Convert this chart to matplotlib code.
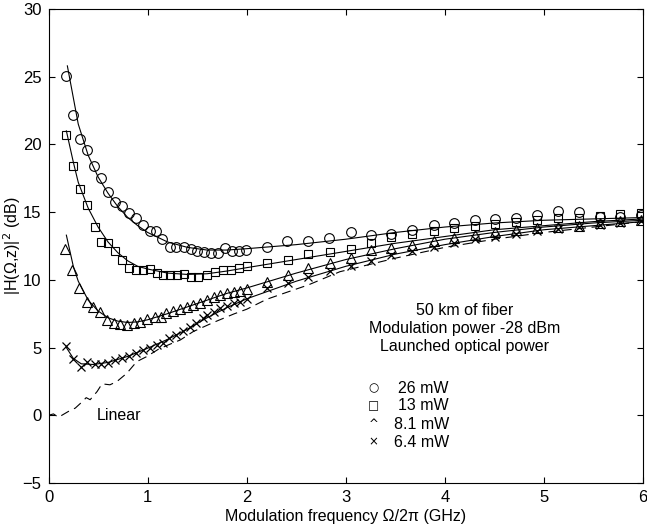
import matplotlib.pyplot as plt

plt.rcParams['font.family'] = ['Liberation Sans', 'DejaVu Sans']

# measured points, 26 mW (circles)
x26 = [0.18, 0.245, 0.32, 0.39, 0.46, 0.53, 0.60, 0.67, 0.74, 0.81, 0.88, 0.95, 1.02, 1.08,
       1.15, 1.23, 1.29, 1.37, 1.44, 1.50, 1.57, 1.64, 1.71, 1.78, 1.85, 1.92, 1.99,
       2.20, 2.41, 2.62, 2.83, 3.05, 3.25, 3.46, 3.67, 3.89, 4.09, 4.30, 4.51, 4.72,
       4.93, 5.14, 5.35, 5.56, 5.77, 5.98]
y26 = [25.07, 22.2, 20.4, 19.6, 18.4, 17.55, 16.5, 15.75, 15.46, 14.97, 14.6, 14.06, 13.57, 13.57,
       12.98, 12.44, 12.4, 12.4, 12.27, 12.15, 12.05, 11.95, 12.0, 12.34, 12.15, 12.15, 12.2,
       12.44, 12.84, 12.88, 13.08, 13.52, 13.3, 13.4, 13.7, 14.04, 14.2, 14.4, 14.5, 14.55,
       14.77, 15.07, 15.0, 14.65, 14.65, 14.77]

# 13 mW (squares)
x13 = [0.18, 0.245, 0.32, 0.39, 0.47, 0.53, 0.60, 0.67, 0.74, 0.81, 0.88, 0.95, 1.02, 1.09,
       1.16, 1.23, 1.30, 1.37, 1.44, 1.51, 1.60, 1.68, 1.76, 1.84, 1.92, 2.0,
       2.20, 2.42, 2.62, 2.84, 3.05, 3.25, 3.46, 3.67, 3.89, 4.09, 4.30, 4.51, 4.72,
       4.93, 5.14, 5.35, 5.56, 5.77, 5.98]
y13 = [20.72, 18.39, 16.7, 15.5, 13.9, 12.8, 12.7, 12.15, 11.5, 10.9, 10.7, 10.7, 10.77, 10.48,
       10.35, 10.35, 10.35, 10.4, 10.23, 10.18, 10.35, 10.6, 10.72, 10.72, 10.85, 11.0,
       11.26, 11.5, 11.88, 12.07, 12.27, 12.73, 13.2, 13.4, 13.6, 13.8, 14.0, 14.1, 14.3,
       14.4, 14.55, 14.6, 14.7, 14.85, 14.9]

# 8.1 mW (triangles)
x8 = [0.17, 0.24, 0.31, 0.39, 0.45, 0.52, 0.59, 0.66, 0.72, 0.79, 0.86, 0.92, 0.99, 1.07,
      1.13, 1.19, 1.26, 1.33, 1.40, 1.46, 1.53, 1.60, 1.67, 1.73, 1.80, 1.87, 1.93, 2.0,
      2.20, 2.42, 2.62, 2.84, 3.05, 3.25, 3.46, 3.67, 3.89, 4.09, 4.30, 4.51, 4.72,
      4.93, 5.14, 5.35, 5.56, 5.77, 5.98]
y8 = [12.3, 10.72, 9.37, 8.39, 8.0, 7.65, 7.04, 6.79, 6.74, 6.67, 6.79, 6.91, 7.09, 7.28,
      7.24, 7.53, 7.72, 7.83, 8.02, 8.14, 8.31, 8.51, 8.71, 8.88, 9.0, 9.12, 9.2, 9.3,
      9.86, 10.35, 10.85, 11.26, 11.6, 12.2, 12.37, 12.6, 12.9, 13.1, 13.3, 13.5, 13.65,
      13.8, 13.9, 14.0, 14.2, 14.35, 14.45]

# 6.4 mW (crosses)
x6 = [0.18, 0.25, 0.325, 0.39, 0.47, 0.53, 0.60, 0.67, 0.74, 0.81, 0.88, 0.95, 1.02, 1.09,
      1.16, 1.22, 1.29, 1.36, 1.43, 1.49, 1.56, 1.60, 1.67, 1.73, 1.80, 1.87, 1.93, 2.0,
      2.20, 2.42, 2.62, 2.84, 3.05, 3.25, 3.46, 3.67, 3.89, 4.09, 4.30, 4.51, 4.72,
      4.93, 5.14, 5.35, 5.56, 5.77, 5.98]
y6 = [5.14, 4.14, 3.6, 3.94, 3.8, 3.8, 3.89, 4.09, 4.26, 4.38, 4.58, 4.83, 5.0, 5.2,
      5.37, 5.69, 5.93, 6.25, 6.54, 6.84, 7.16, 7.4, 7.65, 7.9, 8.07, 8.27, 8.39, 8.56,
      9.37, 9.74, 10.23, 10.67, 11.0, 11.4, 11.8, 12.1, 12.45, 12.75, 13.0, 13.2, 13.4,
      13.6, 13.75, 13.9, 14.05, 14.2, 14.35]

# fitted curves
fx26 = [0.19, 0.3, 0.4, 0.5, 0.6, 0.7, 0.8, 0.9, 1.0, 1.2, 1.4, 1.6, 1.8, 2.0, 2.5, 3.0,
        3.5, 4.0, 4.5, 5.0, 5.5, 6.0]
fy26 = [25.8, 21.5, 19.2, 17.6, 16.4, 15.4, 14.6, 14.0, 13.5, 12.8, 12.4, 12.2, 12.2, 12.3,
        12.6, 13.0, 13.5, 13.9, 14.2, 14.4, 14.5, 14.6]
fx13 = [0.18, 0.25, 0.3, 0.4, 0.5, 0.6, 0.7, 0.8, 0.9, 1.0, 1.2, 1.4, 1.6, 1.8, 2.0, 2.5,
        3.0, 3.5, 4.0, 4.5, 5.0, 5.5, 6.0]
fy13 = [21.0, 18.7, 17.2, 15.3, 13.9, 12.8, 12.0, 11.4, 11.0, 10.8, 10.5, 10.4, 10.45, 10.65,
        10.9, 11.5, 12.1, 12.7, 13.2, 13.7, 14.0, 14.3, 14.5]
fx8 = [0.18, 0.25, 0.3, 0.4, 0.5, 0.6, 0.7, 0.8, 0.9, 1.0, 1.2, 1.4, 1.6, 1.8, 2.0, 2.5,
       3.0, 3.5, 4.0, 4.5, 5.0, 5.5, 6.0]
fy8 = [13.3, 11.0, 9.9, 8.5, 7.7, 7.2, 6.95, 6.85, 6.9, 7.05, 7.5, 8.0, 8.5, 9.0, 9.4, 10.5,
       11.5, 12.3, 13.0, 13.5, 13.9, 14.2, 14.4]
fx6 = [0.18, 0.25, 0.33, 0.45, 0.6, 0.8, 1.0, 1.2, 1.4, 1.6, 1.8, 2.0, 2.5, 3.0, 3.5, 4.0,
       4.5, 5.0, 5.5, 6.0]
fy6 = [5.0, 4.2, 3.8, 3.75, 3.9, 4.35, 4.95, 5.6, 6.35, 7.2, 7.95, 8.6, 9.9, 11.0, 11.9, 12.6,
       13.2, 13.7, 14.0, 14.3]

# linear response (dashed)
xlin = [0.0, 0.05, 0.1, 0.2, 0.27, 0.34, 0.38, 0.42, 0.49, 0.54, 0.62, 0.69, 0.79, 0.89, 0.99,
        1.11, 1.21, 1.33, 1.46, 1.66, 1.87, 2.0, 2.2, 2.42, 2.62, 2.94, 3.5, 4.0, 4.5, 5.0,
        5.5, 6.0]
ylin = [0.0, 0.1, -0.15, 0.28, 0.53, 1.0, 1.3, 1.15, 1.75, 2.32, 2.25, 2.49, 3.1, 3.96, 4.33,
        4.88, 5.2, 5.56, 6.18, 6.84, 7.48, 7.83, 8.56, 9.12, 9.62, 10.6, 11.6, 12.4, 13.0, 13.5,
        13.9, 14.3]

legend_labels = ['26 mW', '13 mW', '8.1 mW', '6.4 mW']
legend_symbols = ['○', '□', '^', '×']

fig = plt.figure(figsize=(6.47, 5.29), dpi=100)
ax = fig.add_axes([0.075, 0.087, 0.919, 0.896])

for fx, fy in [(fx26, fy26), (fx13, fy13), (fx8, fy8), (fx6, fy6)]:
    ax.plot(fx, fy, color='k', lw=0.8)
ax.plot(xlin, ylin, color='k', lw=0.8, dashes=(8, 5))

ax.plot(x26, y26, 'o', mfc='none', mec='k', ms=7, mew=0.8)
ax.plot(x13, y13, 's', mfc='none', mec='k', ms=6, mew=0.8)
ax.plot(x8, y8, '^', mfc='none', mec='k', ms=7, mew=0.8)
ax.plot(x6, y6, 'x', color='k', ms=6, mew=0.9)

fs = 11.5
ax.text(0.49, 0.0, 'Linear', fontsize=fs, va='center', ha='left')

ax.text(4.2, 7.75, '50 km of fiber', fontsize=fs, ha='center', va='center')
ax.text(4.2, 6.4, 'Modulation power -28 dBm', fontsize=fs, ha='center', va='center')
ax.text(4.2, 5.05, 'Launched optical power', fontsize=fs, ha='center', va='center')

leg_y = [2.0, 0.7, -0.65, -2.0]
for sym, lab, yy in zip(legend_symbols, legend_labels, leg_y):
    ax.text(3.28, yy, sym, fontsize=8.5, ha='center', va='center', family=['DejaVu Sans'])
    ax.text(4.04, yy, lab, fontsize=fs, ha='right', va='center')

ax.set_xlim(0, 6)
ax.set_ylim(-5, 30)
ax.set_xticks(range(0, 7))
ax.set_yticks(range(-5, 31, 5))
ax.tick_params(direction='in', top=True, right=True, labelsize=12, length=4, pad=5)
ax.set_xlabel('Modulation frequency Ω/2π (GHz)', fontsize=fs, labelpad=3)
ax.set_ylabel('|H(Ω,z)|$^2$ (dB)', fontsize=fs, labelpad=0)
for s in ax.spines.values():
    s.set_linewidth(0.8)

fig.savefig('out.png', dpi=100)
